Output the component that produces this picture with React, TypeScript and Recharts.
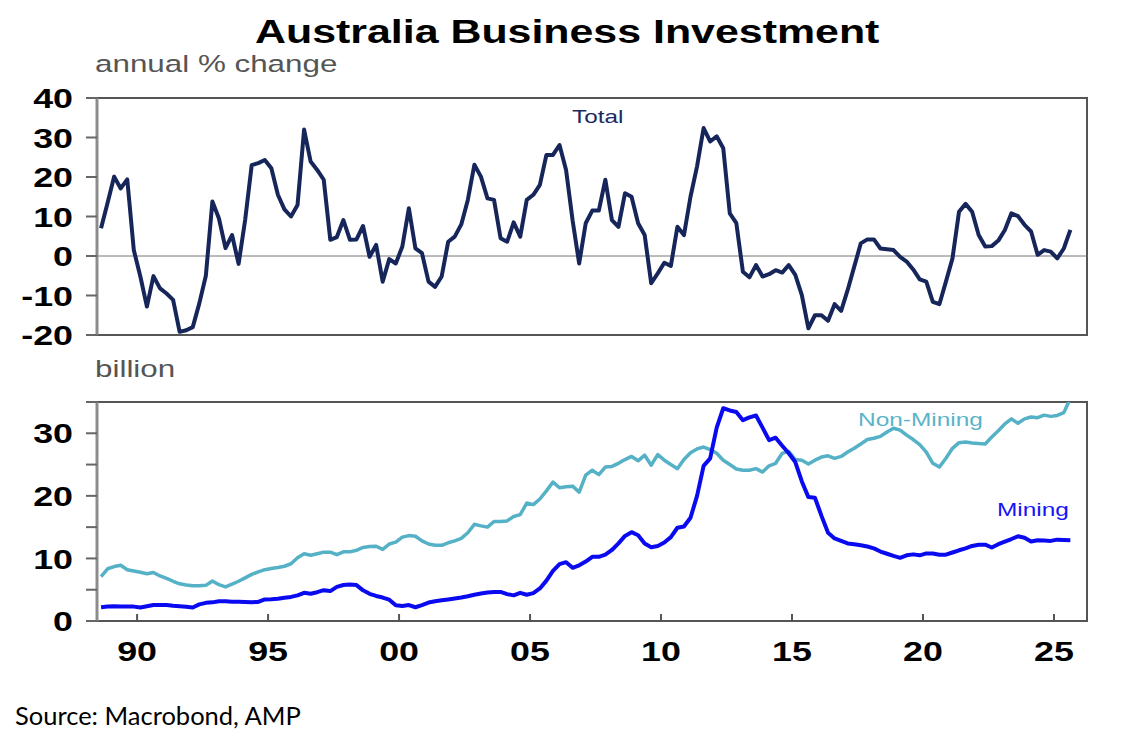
import { LineChart, Line, XAxis, YAxis, ReferenceLine, ReferenceArea } from 'recharts'

// quarterly data, first point is Q3 1988
const START_YEAR = 1988.625
const STEP = 0.25

// annual % change, total business investment
const TOTAL = [
  7.0, 13.5, 20.1, 17.1, 19.4, 1.5, -5.2, -12.8, -5.1, -8.2,
  -9.5, -11.1, -19.2, -18.8, -18.0, -12.0, -5.0, 13.8, 9.5, 2.0,
  5.3, -2.0, 9.1, 23.0, 23.5, 24.3, 22.2, 15.5, 11.8, 10.0,
  12.9, 32.0, 23.9, 21.8, 19.3, 4.1, 4.8, 9.1, 4.1, 4.2,
  7.6, -0.2, 2.8, -6.5, -0.8, -1.9, 2.4, 12.1, 1.9, 0.7,
  -6.5, -7.8, -5.2, 3.6, 4.9, 8.0, 14.2, 23.1, 20.1, 14.6,
  14.2, 4.5, 3.6, 8.5, 4.9, 14.2, 15.5, 18.0, 25.6, 25.6,
  28.1, 21.8, 9.0, -1.9, 8.3, 11.5, 11.5, 19.3, 9.1, 7.4,
  15.9, 15.0, 8.3, 5.3, -6.9, -4.4, -1.7, -2.5, 7.4, 5.3,
  15.0, 22.7, 32.4, 29.0, 30.3, 27.3, 10.8, 8.3, -4.0, -5.4,
  -2.3, -5.2, -4.6, -3.6, -4.2, -2.3, -4.8, -9.9, -18.3, -15.0,
  -15.0, -16.4, -12.2, -13.9, -8.6, -2.7, 3.2, 4.2, 4.2, 1.9,
  1.7, 1.5, -0.2, -1.4, -3.4, -5.9, -6.5, -11.6, -12.2, -6.5,
  -0.6, 11.2, 13.2, 11.2, 5.3, 2.4, 2.5, 3.9, 6.6, 10.8,
  10.1, 7.9, 6.2, 0.3, 1.5, 1.1, -0.6, 1.9, 6.6,
]

// billion
const NON_MINING = [
  7.1, 8.35, 8.7, 8.9, 8.2, 8.0, 7.8, 7.55, 7.75, 7.2,
  6.8, 6.35, 5.95, 5.75, 5.65, 5.63, 5.7, 6.4, 5.8, 5.45,
  5.9, 6.35, 6.9, 7.45, 7.85, 8.2, 8.4, 8.55, 8.75, 9.15,
  10.1, 10.75, 10.5, 10.75, 11.0, 11.0, 10.6, 11.05, 11.05, 11.3,
  11.75, 11.9, 11.95, 11.45, 12.3, 12.6, 13.4, 13.65, 13.55, 12.8,
  12.3, 12.1, 12.1, 12.5, 12.8, 13.2, 14.1, 15.45, 15.2, 15.0,
  15.9, 15.9, 16.0, 16.7, 17.0, 18.85, 18.6, 19.5, 20.8, 22.2,
  21.3, 21.45, 21.55, 20.6, 23.3, 24.1, 23.4, 24.6, 24.7, 25.2,
  25.8, 26.3, 25.6, 26.5, 24.9, 26.6, 25.7, 25.0, 24.35, 25.8,
  26.9, 27.5, 27.8, 27.4, 26.8, 25.7, 25.0, 24.3, 24.1, 24.1,
  24.35, 23.8, 24.8, 25.2, 26.8, 27.1, 25.8, 25.7, 25.1, 25.7,
  26.2, 26.4, 26.0, 26.3, 27.0, 27.6, 28.3, 29.0, 29.2, 29.5,
  30.2, 30.8, 30.5, 29.7, 29.0, 28.2, 27.0, 25.2, 24.6, 26.0,
  27.6, 28.5, 28.6, 28.45, 28.35, 28.3, 29.4, 30.4, 31.5, 32.3,
  31.6, 32.3, 32.6, 32.5, 32.9, 32.7, 32.85, 33.3, 35.6,
]

const MINING = [
  2.18, 2.3, 2.37, 2.3, 2.3, 2.3, 2.15, 2.35, 2.55, 2.55,
  2.55, 2.42, 2.35, 2.28, 2.15, 2.65, 2.9, 2.98, 3.15, 3.15,
  3.09, 3.09, 3.05, 3.0, 3.05, 3.45, 3.46, 3.55, 3.72, 3.85,
  4.1, 4.5, 4.35, 4.6, 4.93, 4.78, 5.45, 5.75, 5.85, 5.74,
  4.9, 4.35, 4.0, 3.75, 3.4, 2.5, 2.4, 2.55, 2.2, 2.55,
  2.95, 3.15, 3.3, 3.45, 3.6, 3.75, 3.95, 4.2, 4.4, 4.55,
  4.62, 4.65, 4.3, 4.1, 4.5, 4.2, 4.45, 5.2, 6.45, 8.0,
  9.1, 9.4, 8.5, 8.9, 9.5, 10.26, 10.26, 10.6, 11.35, 12.4,
  13.6, 14.2, 13.7, 12.4, 11.8, 12.0, 12.55, 13.4, 14.9, 15.1,
  16.5, 20.0, 24.8, 26.0, 30.9, 34.0, 33.65, 33.4, 32.1, 32.55,
  32.85, 30.9, 28.9, 29.3, 28.0, 26.8, 25.4, 22.3, 19.8, 19.7,
  16.8, 14.1, 13.2, 12.8, 12.4, 12.28, 12.1, 11.9, 11.6, 11.1,
  10.75, 10.4, 10.1, 10.5, 10.65, 10.5, 10.8, 10.8, 10.6, 10.6,
  10.95, 11.3, 11.6, 12.0, 12.2, 12.2, 11.75, 12.28, 12.7, 13.1,
  13.55, 13.3, 12.7, 12.9, 12.85, 12.8, 13.0, 12.95, 12.9,
]

const YEAR_TICKS = [1990, 1995, 2000, 2005, 2010, 2015, 2020, 2025]
const X_DOMAIN = [1988.47, 2026.26]
const TOP_TICKS = [-20, -10, 0, 10, 20, 30, 40]
const BOTTOM_TICKS = [0, 5, 10, 15, 20, 25, 30, 35]

const data = TOTAL.map((v, i) => ({
  t: START_YEAR + i * STEP,
  total: v,
  nonMining: NON_MINING[i],
  mining: MINING[i],
}))

const FONT = "'Liberation Sans', Arial, sans-serif"
const SX = 1.28 // the source picture is stretched sideways

function YTick(props: any) {
  const { x, y, payload } = props
  if (payload.value % 10 !== 0) return <g />
  return (
    <g transform={`translate(${x},${y})`}>
      <text
        transform={`scale(${SX},1)`}
        textAnchor="end"
        dy="0.36em"
        fontFamily={FONT}
        fontWeight={700}
        fontSize={28}
        fill="#000"
      >
        {payload.value}
      </text>
    </g>
  )
}

function XTick(props: any) {
  const { x, y, payload } = props
  const label = String(payload.value % 100).padStart(2, '0')
  return (
    <g transform={`translate(${x},${y})`}>
      <text
        transform={`scale(${SX},1)`}
        textAnchor="middle"
        dy={47.5}
        fontFamily={FONT}
        fontWeight={700}
        fontSize={28}
        fill="#000"
      >
        {label}
      </text>
    </g>
  )
}

function Txt({ left, top, size, color, bold, scale, children, font }: any) {
  return (
    <div
      style={{
        position: 'absolute',
        left,
        top,
        fontSize: size,
        lineHeight: 1,
        color,
        fontFamily: font || FONT,
        fontWeight: bold ? 700 : 400,
        whiteSpace: 'nowrap',
        transform: `scaleX(${scale ?? 1})`,
        transformOrigin: 'left top',
      }}
    >
      {children}
    </div>
  )
}

export default function App() {
  return (
    <div style={{ position: 'relative', width: 1121, height: 750, background: '#fff', overflow: 'hidden' }}>
      <style>{'body{margin:0}'}</style>

      <div style={{ position: 'absolute', left: 0, top: 0 }}>
        <LineChart width={1121} height={360} data={data} margin={{ top: 98, right: 34, bottom: 25, left: 0 }}>
          <XAxis dataKey="t" type="number" domain={X_DOMAIN} ticks={YEAR_TICKS} hide />
          <YAxis
            type="number"
            domain={[-20, 40]}
            ticks={TOP_TICKS}
            interval={0}
            width={97}
            tick={<YTick />}
            tickSize={11}
            tickMargin={13}
            tickLine={{ stroke: '#666', strokeWidth: 2 }}
            axisLine={false}
          />
          <ReferenceArea x1={X_DOMAIN[0]} x2={X_DOMAIN[1]} y1={-20} y2={40} fill="none" stroke="#555" strokeWidth={2} />
          <ReferenceLine y={0} stroke="#777" strokeWidth={1} />
          <ReferenceLine x={X_DOMAIN[0]} stroke="#8c8c8c" strokeWidth={3} />
          <Line
            dataKey="total"
            type="linear"
            stroke="#16265a"
            strokeWidth={4}
            strokeLinejoin="round"
            dot={false}
            isAnimationActive={false}
          />
        </LineChart>
      </div>

      <div style={{ position: 'absolute', left: 0, top: 360 }}>
        <LineChart width={1121} height={320} data={data} margin={{ top: 42, right: 34, bottom: 9, left: 0 }}>
          <XAxis
            dataKey="t"
            type="number"
            domain={X_DOMAIN}
            ticks={YEAR_TICKS}
            interval={0}
            height={50}
            tick={<XTick />}
            tickSize={-7}
            tickMargin={0}
            tickLine={{ stroke: '#555', strokeWidth: 2 }}
            axisLine={false}
          />
          <YAxis
            type="number"
            domain={[0, 35]}
            allowDataOverflow
            ticks={BOTTOM_TICKS}
            interval={0}
            width={97}
            tick={<YTick />}
            tickSize={11}
            tickMargin={13}
            tickLine={{ stroke: '#666', strokeWidth: 2 }}
            axisLine={false}
          />
          <ReferenceArea x1={X_DOMAIN[0]} x2={X_DOMAIN[1]} y1={0} y2={35} fill="none" stroke="#555" strokeWidth={2} />
          <ReferenceLine x={X_DOMAIN[0]} stroke="#8c8c8c" strokeWidth={3} />
          <Line
            dataKey="nonMining"
            type="linear"
            stroke="#55b1c6"
            strokeWidth={3.5}
            strokeLinejoin="round"
            dot={false}
            isAnimationActive={false}
          />
          <Line
            dataKey="mining"
            type="linear"
            stroke="#0a0af0"
            strokeWidth={4}
            strokeLinejoin="round"
            dot={false}
            isAnimationActive={false}
          />
        </LineChart>
      </div>

      <Txt left={255} top={15} size={33.5} color="#000" bold scale={SX}>
        Australia Business Investment
      </Txt>
      <Txt left={95} top={52} size={24.5} color="#555" scale={SX}>
        annual % change
      </Txt>
      <Txt left={95} top={357} size={24.5} color="#555" scale={SX}>
        billion
      </Txt>
      <Txt left={572} top={107} size={19} color="#1c2b5e" scale={SX}>
        Total
      </Txt>
      <Txt left={858} top={411} size={18.5} color="#5ab4c9" scale={1.32}>
        Non-Mining
      </Txt>
      <Txt left={997} top={501} size={18.5} color="#1515f5" scale={1.32}>
        Mining
      </Txt>
      <Txt left={15} top={703} size={25.5} color="#000" font="Lato, 'Open Sans', sans-serif">
        Source: Macrobond, AMP
      </Txt>
    </div>
  )
}
